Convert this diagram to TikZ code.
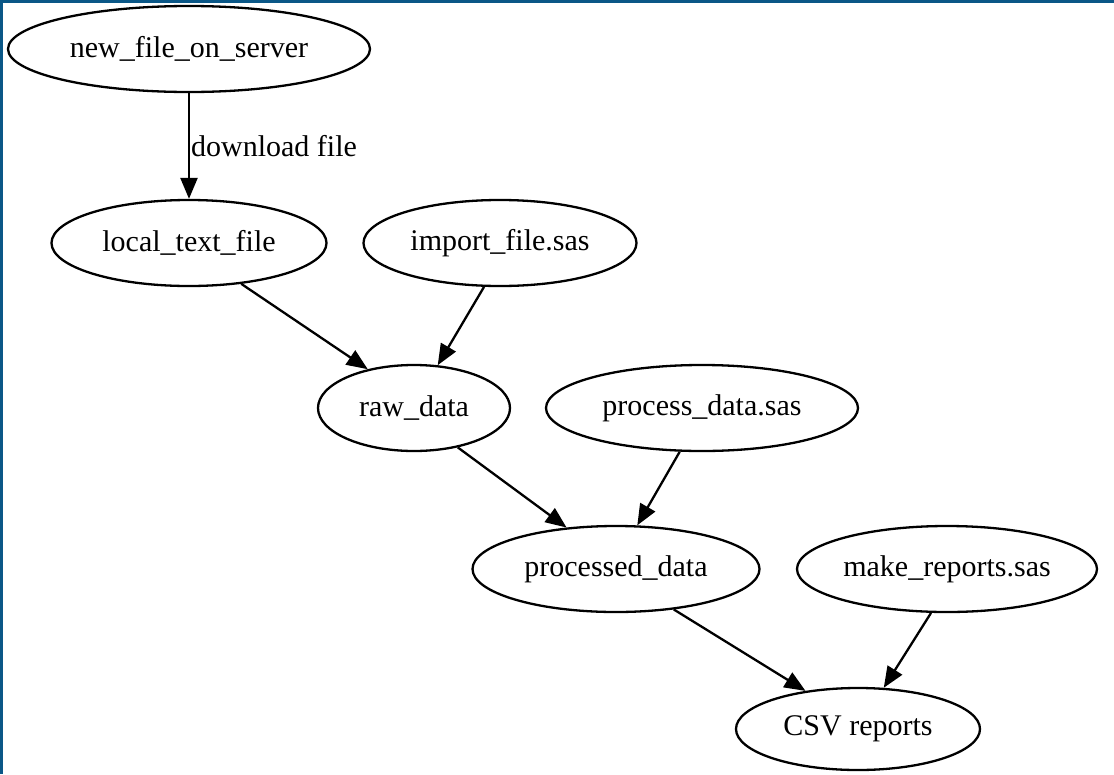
\documentclass[tikz,border=0pt]{standalone}
\usepackage{fontspec}
\setmainfont{Liberation Serif}
\usetikzlibrary{arrows.meta,shapes.geometric}
\definecolor{frameblue}{HTML}{0A5787}
\begin{document}
\begin{tikzpicture}[x=1pt,y=-1pt,
  gnode/.style={draw=black,line width=2.3pt,ellipse,inner sep=0pt,minimum height=86pt,font=\fontsize{30}{33}\selectfont},
  edge/.style={draw=black,line width=2.3pt,-{Triangle[length=21pt,width=17pt]}},
  elabel/.style={font=\fontsize{30}{33}\selectfont,anchor=west,inner sep=0pt}]
\useasboundingbox (0,0) rectangle (1114,774);
\fill[white] (0,0) rectangle (1114,774);
\fill[frameblue] (0,0) rectangle (1114,3);
\fill[frameblue] (0,0) rectangle (3,774);
\node[gnode,minimum width=362pt] (new) at (189,49) {new\_file\_on\_server};
\node[gnode,minimum width=275pt] (local) at (189,243) {local\_text\_file};
\node[gnode,minimum width=273pt] (import) at (500,243) {import\_file.sas};
\node[gnode,minimum width=192pt] (raw) at (414,408) {raw\_data};
\node[gnode,minimum width=312pt] (procsas) at (702,408) {process\_data.sas};
\node[gnode,minimum width=287pt] (proc) at (616,569) {processed\_data};
\node[gnode,minimum width=300pt] (make) at (947,569) {make\_reports.sas};
\node[gnode,minimum width=244pt,minimum height=82pt] (csv) at (858,729) {CSV reports};
\draw[edge] (new.south) -- node[elabel,pos=0.5,xshift=1pt] (dl) {download file} (local.north);
\draw[edge] (local.-38) -- (raw.140);
\draw[edge] (import.-110) -- (raw.61);
\draw[edge] (raw.-42) -- (proc.140);
\draw[edge] (procsas.-117) -- (proc.64);
\draw[edge] (proc.-35) -- (csv.144);
\draw[edge] (make.-110) -- (csv.58);
\end{tikzpicture}
\end{document}
